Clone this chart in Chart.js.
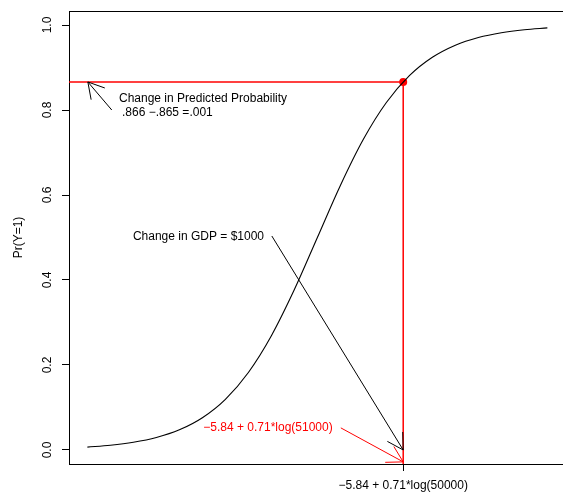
<!DOCTYPE html>
<html>
<head>
<meta charset="utf-8">
<script src="https://cdn.jsdelivr.net/npm/chart.js@4"></script>
<style>
  html, body { margin: 0; padding: 0; background: #fff; overflow: hidden; }
  canvas { display: block; }
</style>
</head>
<body>
<canvas id="c" width="563" height="493"></canvas>
<script>
// Linear predictor values and the fitted Pr(Y=1) along the logistic curve
const linPred = [-5, -4.5, -4, -3.5, -3, -2.5, -2, -1.5, -1, -0.5, 0,
                 0.5, 1, 1.5, 2, 2.5, 3, 3.5, 4, 4.5, 5];
const prob = [0.0067, 0.0110, 0.0180, 0.0293, 0.0474, 0.0759, 0.1192, 0.1824,
              0.2689, 0.3775, 0.5000, 0.6225, 0.7311, 0.8176, 0.8808, 0.9241,
              0.9526, 0.9707, 0.9820, 0.9890, 0.9933];

// Axis ticks
const yTickValues = [0, 0.2, 0.4, 0.6, 0.8, 1.0];
const yTickLabels = ["0.0", "0.2", "0.4", "0.6", "0.8", "1.0"];
const xTickValues = [1.866];
const xTickLabels = ["\u22125.84 + 0.71*log(50000)"];

// Predicted probability at GDP = 50000
const predGdp = 1.866;
const predProb = 0.866;

// Axis ranges
const xRange = [-5.4, 5.34];
const yRange = [-0.033, 1.033];

// Annotation text and arrows, placed in data units
const notes = [
  { text: "Change in Predicted Probability", x: -4.313, y: 0.826, align: "left", color: "#000" },
  { text: ".866 \u2212.865 =.001", x: -4.248, y: 0.793, align: "left", color: "#000" },
  { text: "Change in GDP = $1000", x: -2.585, y: 0.501, align: "center", color: "#000" },
  { text: "\u22125.84 + 0.71*log(51000)", x: -1.074, y: 0.052, align: "center", color: "#ff0000" }
];
const arrows = [
  { from: [-4.47, 0.800], to: [-4.99, predProb], color: "#000" },
  { from: [-0.99, 0.5035], to: [predGdp, 0.0], color: "#000" },
  { from: [0.51, 0.052], to: [predGdp, -0.028], color: "#ff0000" }
];

const FONT = '12px "Liberation Sans", Arial, Helvetica, sans-serif';

const decor = {
  id: "decor",
  afterDatasetsDraw(chart) {
    const ctx = chart.ctx, xs = chart.scales.x, ys = chart.scales.y;
    ctx.save();
    // arrows with open heads
    arrows.forEach(a => {
      const x0 = xs.getPixelForValue(a.from[0]), y0 = ys.getPixelForValue(a.from[1]);
      const x1 = xs.getPixelForValue(a.to[0]), y1 = ys.getPixelForValue(a.to[1]);
      const ang = Math.atan2(y1 - y0, x1 - x0), L = 18, h = Math.PI / 6;
      ctx.strokeStyle = a.color;
      ctx.lineWidth = 1;
      ctx.beginPath();
      ctx.moveTo(x0, y0);
      ctx.lineTo(x1, y1);
      ctx.moveTo(x1 - L * Math.cos(ang - h), y1 - L * Math.sin(ang - h));
      ctx.lineTo(x1, y1);
      ctx.lineTo(x1 - L * Math.cos(ang + h), y1 - L * Math.sin(ang + h));
      ctx.stroke();
    });
    // labels
    ctx.font = FONT;
    ctx.textBaseline = "middle";
    notes.forEach(n => {
      ctx.fillStyle = n.color;
      ctx.textAlign = n.align;
      ctx.fillText(n.text, xs.getPixelForValue(n.x), ys.getPixelForValue(n.y));
    });
    ctx.restore();
  },
  afterDraw(chart) {
    const ctx = chart.ctx, xs = chart.scales.x, ys = chart.scales.y, area = chart.chartArea;
    ctx.save();
    ctx.font = FONT;
    ctx.fillStyle = "#000";
    ctx.textAlign = "center";
    ctx.textBaseline = "middle";
    // y tick labels, rotated parallel to the axis
    yTickValues.forEach((v, i) => {
      ctx.save();
      ctx.translate(48, ys.getPixelForValue(v));
      ctx.rotate(-Math.PI / 2);
      ctx.fillText(yTickLabels[i], 0, 0);
      ctx.restore();
    });
    // x tick labels
    xTickValues.forEach((v, i) => {
      ctx.fillText(xTickLabels[i], xs.getPixelForValue(v), area.bottom + 22);
    });
    // y axis title
    ctx.save();
    ctx.translate(19, (area.top + area.bottom) / 2);
    ctx.rotate(-Math.PI / 2);
    ctx.fillText("Pr(Y=1)", 0, 0);
    ctx.restore();
    ctx.restore();
  }
};

const curve = linPred.map((z, i) => ({ x: z, y: prob[i] }));

new Chart(document.getElementById("c"), {
  type: "scatter",
  data: {
    datasets: [
      {
        data: curve, showLine: true, borderColor: "#000", borderWidth: 1.1,
        pointRadius: 0, cubicInterpolationMode: "monotone", fill: false
      },
      {
        data: [{ x: xRange[0], y: predProb }, { x: predGdp, y: predProb }],
        showLine: true, borderColor: "#ff0000", borderWidth: 1.5, pointRadius: 0
      },
      {
        data: [{ x: predGdp, y: predProb }, { x: predGdp, y: yRange[0] }],
        showLine: true, borderColor: "#ff0000", borderWidth: 1.5, pointRadius: 0
      },
      {
        data: [{ x: predGdp, y: predProb }],
        pointRadius: 4, backgroundColor: "#ff0000", borderColor: "#ff0000", borderWidth: 0
      }
    ]
  },
  options: {
    responsive: false,
    animation: false,
    devicePixelRatio: 1,
    layout: { padding: 0, autoPadding: false },
    plugins: { legend: { display: false }, tooltip: { enabled: false } },
    scales: {
      x: {
        type: "linear", position: "bottom", min: xRange[0], max: xRange[1],
        afterBuildTicks: s => { s.ticks = xTickValues.map(v => ({ value: v })); },
        afterFit: s => { s.height = 29; },
        grid: { drawOnChartArea: false, drawTicks: true, tickLength: 7, color: "#000", lineWidth: 1 },
        border: { display: true, color: "#000", width: 1 },
        ticks: { display: false }
      },
      x2: {
        type: "linear", position: "top", min: xRange[0], max: xRange[1],
        afterFit: s => { s.height = 11; },
        grid: { drawOnChartArea: false, drawTicks: false },
        border: { display: true, color: "#000", width: 1 },
        ticks: { display: false }
      },
      y: {
        type: "linear", position: "left", min: yRange[0], max: yRange[1],
        afterBuildTicks: s => { s.ticks = yTickValues.map(v => ({ value: v })); },
        afterFit: s => { s.width = 69; },
        grid: { drawOnChartArea: false, drawTicks: true, tickLength: 7, color: "#000", lineWidth: 1 },
        border: { display: true, color: "#000", width: 1 },
        ticks: { display: false }
      }
    }
  },
  plugins: [decor]
});
</script>
</body>
</html>
